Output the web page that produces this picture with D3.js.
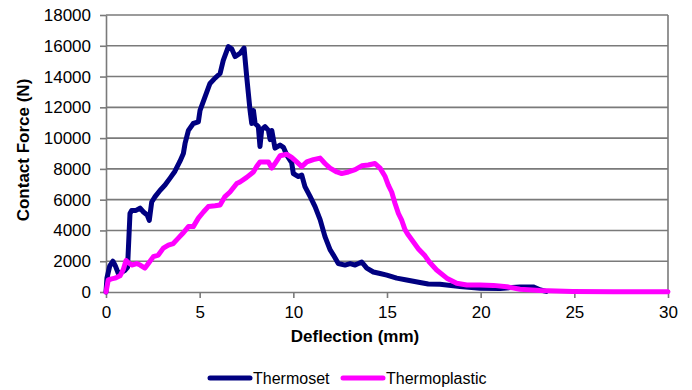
<!DOCTYPE html>
<html>
<head>
<meta charset="utf-8">
<script src="https://cdn.jsdelivr.net/npm/d3@7"></script>
<style>
  html, body { margin: 0; padding: 0; background: #fff; }
  svg { display: block; font-family: Arial, "Liberation Sans", sans-serif; }
</style>
</head>
<body>
<svg id="chart" width="692" height="390"></svg>
<script>
// ---- data ----
const seriesNames = ["Thermoset", "Thermoplastic"];
const seriesColors = ["#000080", "#ff00ff"];

const xTicks = [0, 5, 10, 15, 20, 25, 30];
const yTicks = [0, 2000, 4000, 6000, 8000, 10000, 12000, 14000, 16000, 18000];

const thermosetX = [0.0, 0.05, 0.2, 0.37, 0.5, 0.66, 0.85, 1.0, 1.15, 1.28, 1.37, 1.6, 1.82, 2.0, 2.2, 2.31, 2.44, 2.62, 2.88, 3.15, 3.42, 3.68, 3.95, 4.13, 4.22, 4.4, 4.66, 4.93, 5.02, 5.29, 5.55, 5.82, 6.09, 6.26, 6.53, 6.71, 6.89, 7.15, 7.37, 7.51, 7.6, 7.69, 7.78, 7.87, 7.96, 8.13, 8.22, 8.31, 8.49, 8.67, 8.76, 8.85, 9.02, 9.29, 9.47, 9.65, 9.91, 10.0, 10.27, 10.45, 10.62, 10.9, 11.16, 11.43, 11.69, 11.96, 12.14, 12.4, 12.76, 13.03, 13.3, 13.65, 13.92, 14.27, 14.63, 14.99, 15.52, 16.05, 16.76, 17.2, 17.83, 18.9, 19.97, 21.04, 22.1, 22.8, 23.2, 23.5];
const thermosetY = [0, 900, 1700, 2000, 1700, 1200, 1300, 1400, 1600, 5100, 5300, 5300, 5450, 5200, 5000, 4650, 5850, 6200, 6600, 6950, 7400, 7850, 8500, 9000, 9650, 10500, 10950, 11050, 11800, 12700, 13550, 13900, 14200, 15050, 15950, 15800, 15300, 15500, 15850, 14000, 12900, 11800, 10950, 11800, 10950, 10750, 9450, 10550, 10750, 10500, 9900, 10500, 9350, 9550, 9400, 8900, 8400, 7700, 7500, 7600, 6850, 6200, 5550, 4700, 3600, 2750, 2400, 1850, 1750, 1850, 1750, 1950, 1550, 1300, 1200, 1100, 900, 780, 620, 520, 500, 350, 250, 230, 330, 330, 130, 40];

const thermoplasticX = [0, 0.12, 0.3, 0.48, 0.75, 0.92, 1.07, 1.2, 1.37, 1.64, 1.82, 2.08, 2.26, 2.53, 2.79, 3.06, 3.33, 3.59, 3.86, 4.09, 4.4, 4.66, 4.93, 5.2, 5.46, 5.82, 6.09, 6.35, 6.62, 6.98, 7.15, 7.51, 7.87, 8.04, 8.22, 8.67, 8.85, 9.02, 9.29, 9.65, 9.91, 10.18, 10.45, 10.72, 11.07, 11.43, 11.69, 11.96, 12.32, 12.58, 12.94, 13.3, 13.65, 14.0, 14.36, 14.63, 14.9, 15.07, 15.25, 15.43, 15.61, 15.79, 15.96, 16.14, 16.41, 16.68, 17.03, 17.26, 17.65, 18.19, 18.72, 19.26, 19.97, 20.68, 21.39, 22.1, 23.17, 24.9, 27.1, 30];
const thermoplasticY = [0, 780, 850, 900, 1050, 1450, 2050, 1900, 1750, 1850, 1750, 1550, 1850, 2300, 2400, 2850, 3050, 3150, 3500, 3800, 4250, 4250, 4800, 5200, 5550, 5600, 5650, 6200, 6500, 7050, 7150, 7450, 7800, 8150, 8450, 8450, 8050, 8350, 8850, 8950, 8750, 8450, 8150, 8450, 8600, 8700, 8350, 8050, 7800, 7700, 7800, 7950, 8200, 8250, 8350, 8050, 7500, 6950, 6500, 5750, 5100, 4650, 4050, 3700, 3250, 2800, 2350, 1950, 1430, 900, 570, 450, 450, 430, 340, 180, 90, 40, 20, 10];

const xTitle = "Deflection (mm)";
const yTitle = "Contact Force (N)";

// ---- drawing ----
const svg = d3.select("#chart");
const plotLeft = 106, plotRight = 668, plotTop = 15, plotBottom = 292;

const x = d3.scaleLinear().domain([0, 30]).range([plotLeft, plotRight]);
const y = d3.scaleLinear().domain([0, 18000]).range([plotBottom, plotTop]);

const gridColor = "#7a7a7a";

// gridlines
svg.append("g").selectAll("line")
  .data(yTicks.filter(d => d > 0))
  .join("line")
  .attr("x1", plotLeft).attr("x2", plotRight)
  .attr("y1", d => y(d)).attr("y2", d => y(d))
  .attr("stroke", gridColor).attr("stroke-width", 1.6);

// right border
svg.append("line")
  .attr("x1", plotRight).attr("x2", plotRight).attr("y1", plotTop).attr("y2", plotBottom)
  .attr("stroke", gridColor).attr("stroke-width", 1.6);

// axes
const yAxis = svg.append("g")
  .attr("transform", `translate(${plotLeft},0)`)
  .call(d3.axisLeft(y).tickValues(yTicks).tickFormat(d3.format("d")).tickSize(6).tickPadding(9).tickSizeOuter(0));
const xAxis = svg.append("g")
  .attr("transform", `translate(0,${plotBottom})`)
  .call(d3.axisBottom(x).tickValues(xTicks).tickFormat(d3.format("d")).tickSize(6).tickPadding(8).tickSizeOuter(0));

[yAxis, xAxis].forEach(g => {
  g.select(".domain").attr("stroke", gridColor).attr("stroke-width", 1.6);
  g.selectAll(".tick line").attr("stroke", gridColor).attr("stroke-width", 1.6);
  g.selectAll(".tick text").attr("fill", "#000").style("font-size", "17px")
    .style("font-family", "Arial, 'Liberation Sans', sans-serif");
});

// series
const line = d3.line().x(d => x(d[0])).y(d => y(d[1]));
const seriesData = [
  d3.zip(thermosetX, thermosetY),
  d3.zip(thermoplasticX, thermoplasticY)
];
seriesData.forEach((pts, i) => {
  svg.append("path")
    .datum(pts)
    .attr("d", line)
    .attr("fill", "none")
    .attr("stroke", seriesColors[i])
    .attr("stroke-width", 5)
    .attr("stroke-linejoin", "round")
    .attr("stroke-linecap", "round");
});

// titles
svg.append("text")
  .attr("x", 355).attr("y", 342)
  .attr("text-anchor", "middle")
  .style("font-size", "17px").style("font-weight", "bold")
  .text(xTitle);

svg.append("text")
  .attr("transform", "translate(28.5,150) rotate(-90)")
  .attr("text-anchor", "middle")
  .style("font-size", "17px").style("font-weight", "bold")
  .text(yTitle);

// legend
const legendPos = [210, 343];
seriesNames.forEach((name, i) => {
  const lx = legendPos[i];
  svg.append("line")
    .attr("x1", lx).attr("x2", lx + 40)
    .attr("y1", 378).attr("y2", 378)
    .attr("stroke", seriesColors[i]).attr("stroke-width", 5)
    .attr("stroke-linecap", "round");
  svg.append("text")
    .attr("x", lx + 43).attr("y", 383.5)
    .style("font-size", "16px")
    .text(name);
});
</script>
</body>
</html>
